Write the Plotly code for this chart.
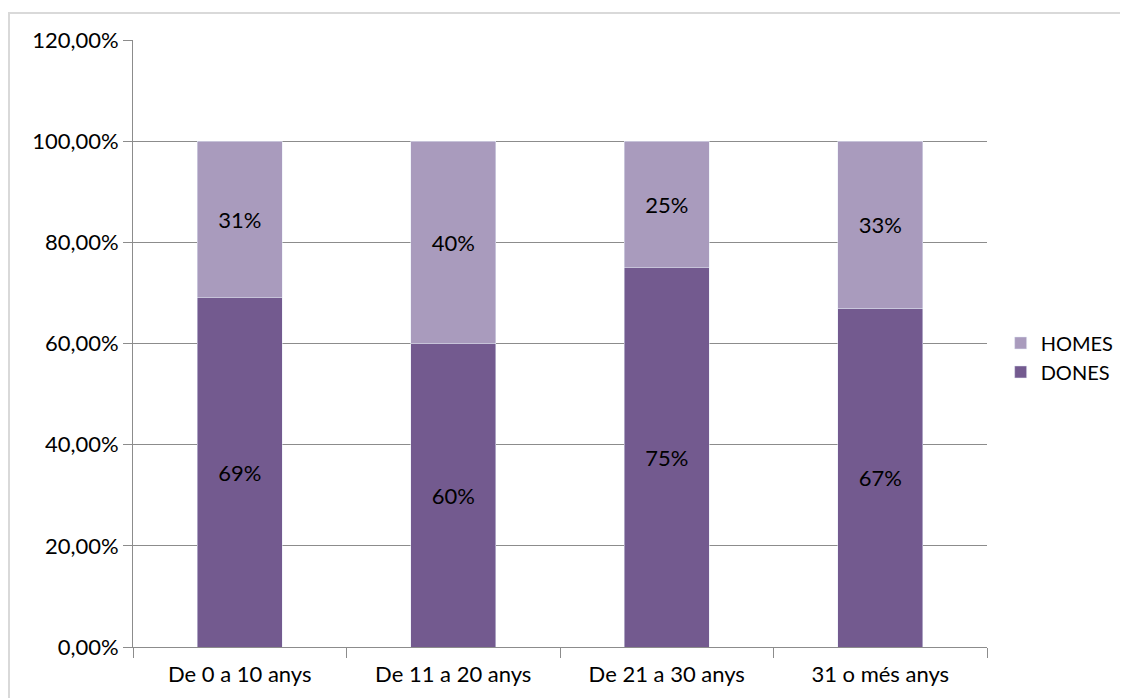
import plotly.graph_objects as go

categories = ["De 0 a 10 anys", "De 11 a 20 anys", "De 21 a 30 anys", "31 o més anys"]
dones = [0.69, 0.60, 0.75, 0.67]
homes = [0.31, 0.40, 0.25, 0.33]
y_ticks = [0, 0.2, 0.4, 0.6, 0.8, 1.0, 1.2]

# page body has an 8px margin, so the figure is 8px smaller
W, H = 1120, 690
L, R, T, B = 125, 141, 32, 51

font = dict(family="Lato, 'Open Sans', sans-serif", size=22, color="#000000")
lfont = dict(family="Lato, 'Open Sans', sans-serif", size=20, color="#000000")

fig = go.Figure()
fig.add_trace(go.Bar(name="DONES", x=categories, y=dones, marker_color="#735A8F",
                     text=dones, texttemplate="%{y:.0%}", textposition="inside",
                     insidetextanchor="middle", textfont=font, width=0.4))
fig.add_trace(go.Bar(name="HOMES", x=categories, y=homes, marker_color="#A99BBD",
                     text=homes, texttemplate="%{y:.0%}", textposition="inside",
                     insidetextanchor="middle", textfont=font, width=0.4))

pw = W - L - R
ph = H - T - B
fig.add_shape(type="rect", xref="paper", yref="paper",
              x0=(1 - L) / pw, x1=(W + 5 - L) / pw,
              y0=-(B + 5) / ph, y1=1 + (T - 5) / ph,
              line=dict(color="#D9D9D9", width=2), fillcolor="rgba(0,0,0,0)", layer="below")

fig.update_layout(
    width=W, height=H,
    margin=dict(l=L, r=R, t=T, b=B, pad=0, autoexpand=False),
    barmode="stack",
    separators=",.",
    plot_bgcolor="white", paper_bgcolor="white",
    font=font,
    uniformtext=dict(mode="show", minsize=20),
    legend=dict(traceorder="reversed", x=1.016, y=0.477, xanchor="left", yanchor="middle",
                font=lfont, itemwidth=30, tracegroupgap=0),
    xaxis=dict(showline=True, linecolor="#8C8C8C", linewidth=1, ticks="outside",
               tickson="boundaries", ticklen=10, tickcolor="#8C8C8C", showgrid=False,
               tickfont=font, ticklabelstandoff=8),
    yaxis=dict(range=[0, 1.2], tickvals=y_ticks, tickformat=".2%", showline=True,
               linecolor="#8C8C8C", linewidth=1, ticks="outside", ticklen=9,
               tickcolor="#8C8C8C", showgrid=True, gridcolor="#8C8C8C", gridwidth=1,
               zeroline=False, tickfont=font),
)

fig.write_html("out.html")
